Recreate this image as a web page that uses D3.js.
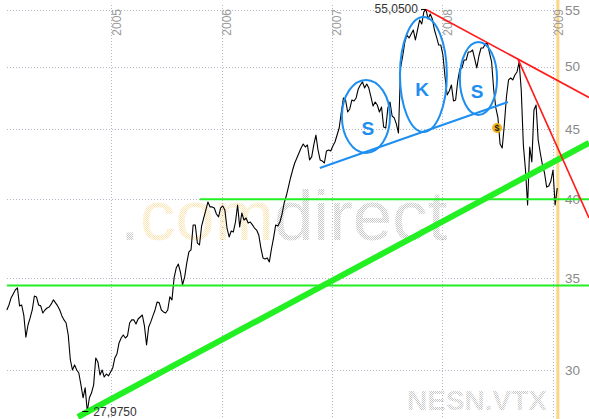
<!DOCTYPE html>
<html><head><meta charset="utf-8">
<script src="https://cdn.jsdelivr.net/npm/d3@7"></script>
<style>html,body{margin:0;padding:0;background:#fff;overflow:hidden} svg{display:block}</style>
</head><body>
<svg id="chart" width="589" height="419"></svg>
<script>
// Weekly closing prices (CHF), NESN.VTX, starting 2004-01-22
const closes = [
33.19,33.47,33.87,34.10,34.33,34.45,33.42,33.47,32.91,31.71,
32.36,32.75,33.19,33.98,33.93,33.47,33.42,33.02,33.19,33.30,
33.36,33.53,33.76,33.59,33.42,33.19,32.86,32.64,32.47,31.82,
30.51,30.00,30.26,30.00,29.85,29.26,28.63,29.11,27.975,28.63,
28.87,29.26,30.61,30.41,29.75,30.00,29.65,29.80,29.70,29.90,
30.10,30.61,30.82,31.40,31.66,31.82,31.66,31.77,32.47,32.64,
32.64,32.42,32.69,32.80,32.91,32.31,31.29,32.25,32.53,32.86,
33.19,33.64,33.59,33.19,33.08,33.02,33.19,33.93,33.76,35.03,
35.62,35.86,35.38,34.62,35.09,35.93,36.60,36.72,38.30,38.30,
37.15,37.03,38.23,38.75,39.27,39.81,39.48,39.48,39.41,39.01,
38.82,39.41,39.54,39.27,38.10,37.53,37.91,37.85,38.49,39.61,
38.17,39.08,38.62,38.75,38.43,38.49,38.30,38.10,37.97,37.66,
36.85,36.23,36.17,36.23,35.99,36.78,37.47,38.30,38.23,38.49,
39.01,39.74,40.21,40.82,41.45,42.01,42.51,42.87,43.23,43.60,
43.89,43.67,43.82,42.73,42.95,43.82,44.56,43.45,42.73,42.66,
42.51,43.38,43.45,43.38,43.75,44.04,44.56,45.09,46.32,47.43,
47.27,46.32,46.56,47.27,47.19,47.43,48.15,48.48,48.73,48.23,
48.56,48.23,47.51,46.79,47.11,46.87,46.32,46.71,45.17,45.09,
46.64,47.11,46.01,45.86,45.40,44.71,49.89,50.90,52.11,52.73,
52.47,52.82,53.18,52.29,53.18,54.08,53.72,54.82,55.05,54.17,
54.63,54.17,53.18,52.55,51.85,51.85,50.99,49.14,47.67,47.99,
48.48,47.19,47.27,48.81,49.80,49.89,50.56,50.56,51.25,51.25,
51.42,50.65,49.89,50.90,51.59,51.59,51.94,52.03,51.16,50.39,
48.07,46.64,45.86,43.89,43.60,45.32,47.51,48.89,49.05,48.89,
49.30,49.55,50.39,48.07,43.82,42.01,39.61,43.67,42.59,46.48,
46.87,44.19,43.23,42.37,41.80,40.82,40.89,41.24,42.01,39.61,
40.75
];
const startDate = new Date(2004, 0, 22);
const dates = closes.map((_, i) => d3.timeDay.offset(startDate, 7 * i));

const yearTicks = ["2005", "2006", "2007", "2008", "2009"];
const priceTicks = [30, 35, 40, 45, 50, 55];

// Drawn trend / support lines: [date, price] endpoints
const supportLine = [[new Date(2004, 8, 13), 27.72], [new Date(2009, 3, 30), 43.97]];
const level1 = [[new Date(2004, 0, 22), 34.58], [new Date(2009, 3, 30), 34.58]];
const level2 = [[new Date(2005, 9, 21), 40.0], [new Date(2009, 3, 30), 40.0]];
const resist1 = [[new Date(2007, 10, 8), 55.05], [new Date(2009, 3, 30), 47.47]];
const resist2 = [[new Date(2008, 8, 7), 50.64], [new Date(2009, 3, 30), 38.75]];
const neckline = [[new Date(2006, 10, 22), 42.15], [new Date(2008, 7, 5), 47.11]];
// Head & shoulders ellipses: [startDate, endDate, highPrice, lowPrice]
const ellipses = [
  [new Date(2007, 1, 3), new Date(2007, 6, 12), 48.89, 43.23],
  [new Date(2007, 7, 14), new Date(2008, 0, 16), 54.36, 44.79],
  [new Date(2008, 1, 28), new Date(2008, 5, 30), 52.11, 46.09]
];
const letters = ["S", "K", "S"];
const letterPos = [[new Date(2007, 3, 30), 45.09], [new Date(2007, 9, 26), 48.15], [new Date(2008, 3, 25), 47.99]];
const dollarPos = [new Date(2008, 5, 30), 45.09];
const todayDate = new Date(2009, 0, 17);

const W = 589, H = 419;
const svg = d3.select("#chart");
const x = d3.scaleTime().domain([new Date(2004, 0, 1), new Date(2009, 0, 1)]).range([0.5, 553]);
const y = d3.scaleLog().domain([30, 55]).range([370, 10]);
const font = "'Liberation Sans', Arial, sans-serif";

const defs = svg.append("defs");
function dotPattern(id, color) {
  const p = defs.append("pattern").attr("id", id).attr("width", 2).attr("height", 2)
    .attr("patternUnits", "userSpaceOnUse");
  p.append("rect").attr("width", 1).attr("height", 1).attr("fill", color);
  p.append("rect").attr("x", 1).attr("y", 1).attr("width", 1).attr("height", 1).attr("fill", color);
}
dotPattern("dotGray", "#c9c9c9");
dotPattern("dotOrange", "#fde3b0");

svg.append("rect").attr("width", W).attr("height", H).attr("fill", "#fff");

// grid
const grid = svg.append("g").attr("stroke", "#b6b6c6").attr("stroke-width", 1).attr("stroke-dasharray", "1,2");
grid.selectAll("line.h").data(priceTicks).join("line")
  .attr("x1", 7).attr("x2", 556)
  .attr("y1", d => Math.round(y(d)) + 0.5).attr("y2", d => Math.round(y(d)) + 0.5);
grid.selectAll("line.v").data(yearTicks).join("line")
  .attr("x1", d => Math.round(x(new Date(+d, 0, 1))) + 0.5).attr("x2", d => Math.round(x(new Date(+d, 0, 1))) + 0.5)
  .attr("y1", 5).attr("y2", H);

// watermarks
const wm = svg.append("text").attr("x", 120).attr("y", 240)
  .attr("font-family", font).attr("font-size", 71);
wm.append("tspan").attr("fill", "url(#dotGray)").text(".");
wm.append("tspan").attr("fill", "url(#dotOrange)").text("com");
wm.append("tspan").attr("fill", "url(#dotGray)").text("direct");
svg.append("text").attr("x", 407).attr("y", 410).attr("font-family", font)
  .attr("font-size", 28).attr("font-weight", "bold").attr("fill", "url(#dotGray)").text("NESN.VTX");

// today band
svg.append("rect").attr("x", x(todayDate) - 1.5).attr("y", 0).attr("width", 3).attr("height", H)
  .attr("fill", "#fcd687");

// year labels
svg.selectAll("text.year").data(yearTicks).join("text")
  .attr("transform", d => `translate(${x(new Date(+d, 0, 1)) + 9.5},9) rotate(-90)`)
  .attr("text-anchor", "end").attr("font-family", font).attr("font-size", 12)
  .attr("fill", "#9a9a9a").text(d => d);

// right price labels
svg.selectAll("text.price").data(priceTicks).join("text")
  .attr("x", 565).attr("y", d => y(d)).attr("dy", "0.36em")
  .attr("font-family", font).attr("font-size", 13.5).attr("fill", "#8a8a8a").text(d => d);

// price line
const line = d3.line().x((d, i) => x(dates[i])).y(d => y(d));
svg.append("path").datum(closes).attr("d", line).attr("fill", "none")
  .attr("stroke", "#000").attr("stroke-width", 1.1).attr("stroke-linejoin", "round");

// annotation lines
const seg = d3.line().x(d => x(d[0])).y(d => y(d[1]));
function drawSeg(data, color, width) {
  svg.append("path").datum(data).attr("d", seg).attr("fill", "none")
    .attr("stroke", color).attr("stroke-width", width);
}
drawSeg(level1, "#22f022", 2);
drawSeg(level2, "#22f022", 2);
drawSeg(supportLine, "#22f022", 6);
drawSeg(resist1, "#ff1a1a", 1.6);
drawSeg(resist2, "#ff1a1a", 1.6);
drawSeg(neckline, "#1e8ef0", 2);

svg.selectAll("ellipse.hs").data(ellipses).join("ellipse")
  .attr("cx", d => (x(d[0]) + x(d[1])) / 2).attr("rx", d => (x(d[1]) - x(d[0])) / 2)
  .attr("cy", d => (y(d[2]) + y(d[3])) / 2).attr("ry", d => (y(d[3]) - y(d[2])) / 2)
  .attr("fill", "none").attr("stroke", "#1e8ef0").attr("stroke-width", 2);
svg.selectAll("text.hs").data(letters).join("text")
  .attr("x", (d, i) => x(letterPos[i][0])).attr("y", (d, i) => y(letterPos[i][1])).attr("dy", "0.36em")
  .attr("text-anchor", "middle").attr("font-family", font).attr("font-weight", "bold")
  .attr("font-size", 19).attr("fill", "#1e8ef0").text(d => d);

// dollar badge
const bx = x(dollarPos[0]), by = y(dollarPos[1]);
svg.append("circle").attr("cx", bx).attr("cy", by).attr("r", 5).attr("fill", "#f5b21a");
svg.append("text").attr("x", bx).attr("y", by).attr("dy", "0.36em").attr("text-anchor", "middle")
  .attr("font-family", font).attr("font-weight", "bold").attr("font-size", 9).attr("fill", "#222").text("$");

// min / max labels
const loc = d3.formatLocale({decimal: ",", thousands: ".", grouping: [3], currency: ["", ""]});
const fmt = loc.format(".4f");
const iMax = d3.maxIndex(closes), iMin = d3.minIndex(closes);
const pxMax = x(dates[iMax]), pyMax = y(closes[iMax]);
const pxMin = x(dates[iMin]), pyMin = y(closes[iMin]);
svg.append("line").attr("x1", pxMax - 5).attr("x2", pxMax).attr("y1", pyMax).attr("y2", pyMax).attr("stroke", "#000");
svg.append("text").attr("x", pxMax - 8).attr("y", pyMax + 4).attr("text-anchor", "end")
  .attr("font-family", font).attr("font-size", 12).attr("fill", "#333").text(fmt(closes[iMax]));
svg.append("line").attr("x1", pxMin - 5).attr("x2", pxMin + 1).attr("y1", pyMin).attr("y2", pyMin).attr("stroke", "#000");
svg.append("text").attr("x", pxMin + 6).attr("y", pyMin + 4).attr("text-anchor", "start")
  .attr("font-family", font).attr("font-size", 12).attr("fill", "#333").text(fmt(closes[iMin]));
</script>
</body></html>
